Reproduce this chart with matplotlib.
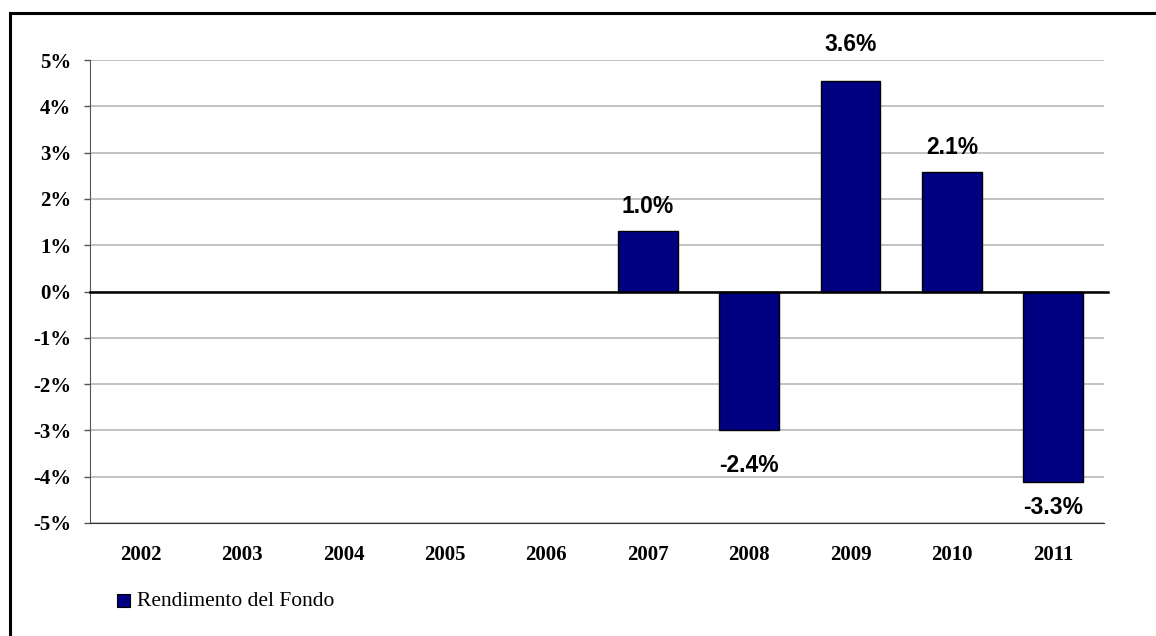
import matplotlib.pyplot as plt
import numpy as np
from matplotlib.patches import Rectangle

# data
years = ['2002', '2003', '2004', '2005', '2006', '2007', '2008', '2009', '2010', '2011']
bar_values = [np.nan, np.nan, np.nan, np.nan, np.nan, 1.3, -3.0, 4.55, 2.58, -4.12]
bar_labels = ['', '', '', '', '', '1.0%', '-2.4%', '3.6%', '2.1%', '-3.3%']
series_name = 'Rendimento del Fondo'

W, H = 1156, 636
fig = plt.figure(figsize=(W / 100, H / 100), dpi=100)
ax = fig.add_axes([90 / W, 1 - 523 / H, 1014 / W, 463 / H])

# outer frame (right and bottom edges run off the picture)
fig.patches.append(Rectangle((10 / W, -0.1), 1.2, 1 - 13 / H + 0.1,
                             transform=fig.transFigure, fill=False,
                             edgecolor='black', linewidth=2.2))

ind = np.arange(len(years))
vals = np.array(bar_values, dtype=float)
ax.bar(ind, vals, 0.59, color='#000080', edgecolor='black', linewidth=1, zorder=3)

# distance (points) between bar end and label centre
label_gap = [0, 0, 0, 0, 0, 18, 25, 26, 18, 18]
for i, (v, lab) in enumerate(zip(vals, bar_labels)):
    if not lab:
        continue
    sign = 1 if v >= 0 else -1
    ax.annotate(lab, (i, v), xytext=(0, sign * label_gap[i]), textcoords='offset points',
                ha='center', va='center', fontsize=16.5, fontweight='bold',
                family='Liberation Sans')

ax.set_xlim(-0.5, len(years) - 0.5)
ax.set_ylim(-5, 5)
ax.set_yticks(np.arange(-5, 6, 1))
ax.set_yticklabels(['%d%%' % t for t in range(-5, 6)], family='Liberation Serif',
                   fontweight='bold', fontsize=15)
ax.set_xticks(ind)
ax.set_xticklabels(years, family='Liberation Serif', fontweight='bold', fontsize=15)
ax.tick_params(axis='x', length=0, pad=16)
ax.tick_params(axis='y', length=4.5, width=1, color='#555555', pad=9)

ax.grid(axis='y', color='#b0b0b0', linewidth=1.1, zorder=0)
ax.axhline(0, color='black', linewidth=1.8, zorder=4, xmax=1.004, clip_on=False)

for s in ['top', 'right']:
    ax.spines[s].set_visible(False)
ax.spines['left'].set_color('#555555')
ax.spines['bottom'].set_color('#333333')

# legend
fig.patches.append(Rectangle((117 / W, 1 - 607 / H), 13 / W, 13 / H,
                             transform=fig.transFigure, facecolor='#000080',
                             edgecolor='black', linewidth=0.8))
fig.text(137 / W, 1 - 601 / H, series_name, family='Liberation Serif',
         fontsize=15.5, va='center', ha='left')

fig.savefig('out.png', dpi=100)
